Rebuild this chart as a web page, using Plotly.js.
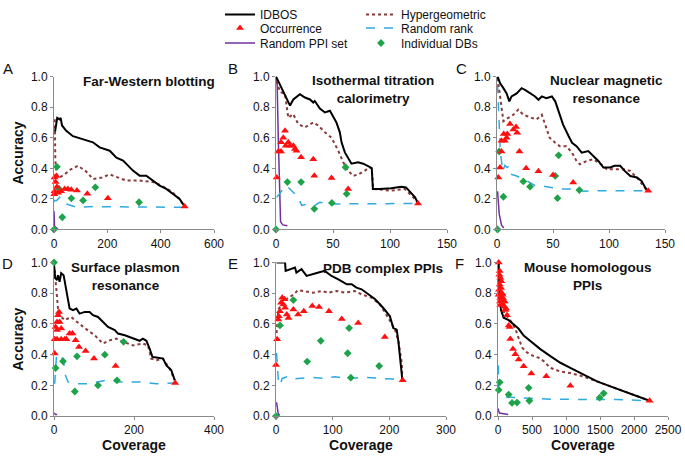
<!DOCTYPE html>
<html>
<head>
<meta charset="utf-8">
<script src="https://cdn.plot.ly/plotly-3.0.1.min.js"></script>
<style>html,body{margin:0;padding:0;background:#fff;}#chart{width:685px;height:457px;}</style>
</head>
<body>
<div id="chart"></div>
<script>
// ---------- Panel A: Far-Western blotting ----------
const A_idbos_x = [4,8,12,21,25,30,46,71,109,146,171,209,234,259,296,321,346,371,396,421,446,471,490];
const A_idbos_y = [0.64,0.70,0.73,0.72,0.73,0.68,0.645,0.61,0.59,0.57,0.537,0.515,0.47,0.45,0.385,0.352,0.352,0.32,0.287,0.265,0.233,0.20,0.15];
const A_hyper_x = [3,5,10,20,40,60,90,120,146,180,209,240,271,321,371,400,440,470,490];
const A_hyper_y = [0.72,0.45,0.36,0.34,0.36,0.39,0.417,0.38,0.33,0.34,0.36,0.34,0.32,0.32,0.31,0.29,0.25,0.20,0.15];
const A_rrank_x = [0,2,10,21,30,46,84,150,250,350,490];
const A_rrank_y = [0.18,0.19,0.19,0.21,0.18,0.167,0.146,0.15,0.148,0.146,0.145];
const A_rppi_x = [0,2,10,15];
const A_rppi_y = [0.12,0.02,0.01,0.0];
const A_occ_x = [2,9,6,11,2,1,15,27,40,52,65,86,125,202,490];
const A_occ_y = [0.34,0.35,0.31,0.28,0.25,0.23,0.24,0.25,0.265,0.265,0.26,0.255,0.233,0.204,0.15];
const A_db_x = [0,11,19,31,65,109,155,319];
const A_db_y = [0.0,0.41,0.265,0.08,0.204,0.19,0.276,0.178];

// ---------- Panel B: Isothermal titration calorimetry ----------
const B_idbos_x = [0,12.3,15.2,21,25.4,29.8,32.7,34,38.5,42.9,47.3,50,53,56,57.5,60.4,64.8,66.2,72,76.5,82,84,85,91,101,110,114,117,122,124.6];
const B_idbos_y = [1.0,0.81,0.85,0.885,0.863,0.85,0.83,0.84,0.79,0.765,0.776,0.74,0.70,0.635,0.57,0.504,0.45,0.43,0.44,0.43,0.41,0.40,0.265,0.265,0.27,0.28,0.275,0.25,0.21,0.17];
const B_hyper_x = [0.5,3.5,7.9,10.8,15,19.5,25.4,32.7,37,42.9,48.7,54.6,59,63.3,67.7,72,78,82,84,85.2,101,113,123,124.6];
const B_hyper_y = [0.97,0.9,0.885,0.73,0.755,0.69,0.667,0.70,0.68,0.635,0.60,0.515,0.44,0.385,0.35,0.36,0.385,0.407,0.40,0.265,0.254,0.265,0.19,0.17];
const B_rrank_x = [0.6,3.5,6.4,9.3,12.3,15,19.5,22.5,28.3,34,38.5,45.8,54.6,80,100,124.6];
const B_rrank_y = [0.21,0.24,0.265,0.287,0.265,0.24,0.21,0.157,0.167,0.157,0.178,0.167,0.167,0.167,0.17,0.17];
const B_rppi_x = [0,1,2,3,4,6,10];
const B_rppi_y = [1.0,0.95,0.6,0.2,0.05,0.03,0.025];
const B_occ_x = [0.6,2,4.4,4.4,6.4,7.9,8.5,10.8,12.3,15.2,16.6,18,22,32.7,33.6,48.7,63.3,124.6];
const B_occ_y = [0.34,0.51,0.51,0.57,0.60,0.645,0.548,0.57,0.548,0.548,0.526,0.515,0.472,0.46,0.352,0.337,0.265,0.17];
const B_db_x = [0,10,22,33.6,49,61,62];
const B_db_y = [0.0,0.31,0.31,0.135,0.174,0.407,0.233];

// ---------- Panel C: Nuclear magnetic resonance ----------
const C_idbos_x = [0.6,2.7,5.7,8.6,11,13,17.6,22,25,29.5,34,37,40,44,49,52,55,59,64,67,71,75.6,81.5,86,90.5,95,101,105,110,114,119,125,129,134];
const C_idbos_y = [1.0,0.957,0.924,0.89,0.838,0.87,0.89,0.924,0.913,0.89,0.87,0.848,0.87,0.859,0.87,0.838,0.773,0.686,0.61,0.567,0.545,0.502,0.513,0.48,0.448,0.405,0.405,0.416,0.416,0.383,0.35,0.34,0.318,0.253];
const C_hyper_x = [0.6,2.7,5.7,10,14.6,19,23.5,31,35.4,40,43,47,52,56,62,67,71,74,80,86,93,98,107,113,119,126,134];
const C_hyper_y = [0.99,0.88,0.708,0.73,0.75,0.784,0.75,0.73,0.72,0.75,0.686,0.60,0.567,0.545,0.545,0.502,0.448,0.426,0.448,0.459,0.426,0.394,0.394,0.394,0.383,0.33,0.253];
const C_rrank_x = [0.5,1.5,3,4,5,7,9,11,13,17.6,23.5,29.5,34,38,44,50,59,71,77,92,107,134];
const C_rrank_y = [0.95,0.75,0.50,0.45,0.38,0.42,0.405,0.416,0.36,0.35,0.33,0.307,0.286,0.286,0.28,0.275,0.264,0.264,0.25,0.253,0.253,0.253];
const C_rppi_x = [0.5,2,4,6];
const C_rppi_y = [0.25,0.10,0.03,0.01];
const C_occ_x = [1.2,2.7,4,4,6,7,8.6,9.2,11.6,14.6,17,18,20,26,37,50,68,135];
const C_occ_y = [0.34,0.405,0.51,0.58,0.625,0.58,0.60,0.625,0.69,0.654,0.67,0.632,0.51,0.40,0.38,0.357,0.307,0.253];
const C_db_x = [0.5,2,5.7,23.5,29.5,52,54,55,73.5];
const C_db_y = [0.0,0.51,0.214,0.314,0.28,0.35,0.205,0.485,0.258];

// ---------- Panel D: Surface plasmon resonance ----------
const D_idbos_x = [0,3,7.5,10,14,18,24,31,39,47.5,56,64,77,89,97.5,110,122.5,135,152,160,177,189,202,214,222,231,239,246,260,272.5,281,293,302];
const D_idbos_y = [0.99,0.90,0.885,0.917,0.874,0.93,0.917,0.82,0.70,0.69,0.70,0.667,0.678,0.678,0.657,0.645,0.613,0.58,0.56,0.537,0.526,0.515,0.504,0.49,0.504,0.49,0.44,0.385,0.38,0.374,0.33,0.30,0.233];
const D_hyper_x = [1.7,6,10,18,27,35,43,52,68,85,102,114,122,139,156,172.5,197.5,222.5,235,243,256,272.5,289,302];
const D_hyper_y = [0.95,0.82,0.70,0.646,0.624,0.635,0.645,0.624,0.59,0.557,0.526,0.493,0.472,0.493,0.504,0.483,0.46,0.472,0.46,0.374,0.363,0.374,0.309,0.233];
const D_rrank_x = [1.7,6,12.5,18,24,27,35,52,81,106,131,164,214,256,302];
const D_rrank_y = [0.21,0.385,0.363,0.385,0.363,0.276,0.222,0.21,0.21,0.222,0.233,0.222,0.222,0.21,0.215];
const D_rppi_x = [0,4,8];
const D_rppi_y = [0.02,0.01,0.01];
const D_occ_x = [1.7,1.7,4,7.5,10,12.5,14,18,7.5,18,27,31,39,46,54,62.5,79,100,154,303,7.5];
const D_occ_y = [0.407,0.50,0.58,0.613,0.657,0.678,0.613,0.57,0.56,0.50,0.50,0.50,0.537,0.537,0.493,0.45,0.424,0.374,0.326,0.215,0.50];
const D_db_x = [0,4,22.5,57.5,52,110,127,157.5,174];
const D_db_y = [1.0,0.313,0.357,0.389,0.16,0.20,0.40,0.233,0.483];

// ---------- Panel E: PDB complex PPIs ----------
const E_idbos_x = [1,16,17,25,33.5,36,45,54,63,75,86,98,110,125,133.5,142,151,163,175,189,201,207,213,216,219,223];
const E_idbos_y = [1.0,1.0,0.945,0.956,0.967,0.934,0.956,0.912,0.923,0.934,0.945,0.912,0.89,0.858,0.858,0.836,0.825,0.792,0.76,0.705,0.65,0.573,0.562,0.486,0.387,0.234];
const E_hyper_x = [1,4,13,22,30.6,39,51,66,80.6,92,107,122,139,151,169,183.5,198,210,216,222,223];
const E_hyper_y = [0.54,0.694,0.748,0.77,0.79,0.82,0.814,0.803,0.814,0.803,0.814,0.803,0.814,0.792,0.77,0.726,0.64,0.562,0.486,0.344,0.234];
const E_rrank_x = [1,4,7,11,19,27.6,39,63,86,104,128,157,186,223];
const E_rrank_y = [0.41,0.234,0.20,0.245,0.256,0.24,0.245,0.252,0.245,0.256,0.245,0.252,0.245,0.238];
const E_rppi_x = [1,4,7];
const E_rppi_y = [0.09,0.015,0.005];
const E_occ_x = [0,2,4,7,9,11,13,15,16,19,22,30.6,39,49,64,76,93.5,116,145,192,223.5,5];
const E_occ_y = [0.333,0.50,0.628,0.683,0.737,0.77,0.726,0.76,0.705,0.661,0.639,0.694,0.661,0.683,0.716,0.71,0.683,0.632,0.606,0.514,0.234,0.65];
const E_db_x = [0,7,30.6,55,79,126.5,129,132,182];
const E_db_y = [0.0,0.59,0.755,0.355,0.49,0.409,0.573,0.25,0.326];

// ---------- Panel F: Mouse homologous PPIs ----------
const F_idbos_x = [10,15,25,44,74,83,157,255,304,377,500,622,770,917,1064,1260,1456,1652,1848,2044,2230];
const F_idbos_y = [0.99,0.83,0.77,0.69,0.645,0.64,0.624,0.59,0.568,0.524,0.48,0.436,0.39,0.347,0.314,0.27,0.226,0.193,0.16,0.13,0.10];
const F_hyper_x = [10,34,83,181,255,304,353,426,524,598,671,770,917,1064,1260,1456,1750,2044,2230];
const F_hyper_y = [1.0,0.81,0.68,0.624,0.568,0.502,0.447,0.414,0.39,0.38,0.358,0.314,0.29,0.28,0.257,0.226,0.18,0.13,0.10];
const F_rrank_x = [5,10,34,83,279,524,770,1260,1750,2230];
const F_rrank_y = [0.33,0.17,0.137,0.126,0.12,0.115,0.11,0.108,0.108,0.10];
const F_rppi_x = [0,20,150];
const F_rppi_y = [0.05,0.02,0.01];
const F_occ_x = [10,25,34,25,44,10,34,59,73,83,59,34,93,108,132,157,181,220,255,304,377,490,710,1064,2230,172,20,49,15,44,68,29,98,118];
const F_occ_y = [1.0,0.945,0.90,0.856,0.834,0.79,0.768,0.80,0.768,0.746,0.735,0.723,0.712,0.69,0.657,0.59,0.502,0.436,0.403,0.369,0.325,0.277,0.26,0.197,0.10,0.58,0.92,0.878,0.823,0.779,0.79,0.746,0.746,0.70];
const F_db_x = [10,25,157,206,279,451,461,1495,1554];
const F_db_y = [0.17,0.22,0.14,0.086,0.088,0.184,0.10,0.12,0.148];

// ---------- Panel labels / titles / ticks ----------
const panelLetters = ['A','B','C','D','E','F'];
const panelTitles = ['Far-Western blotting','Isothermal titration<br>calorimetry','Nuclear magnetic<br>resonance','Surface plasmon<br>resonance','PDB complex PPIs','Mouse homologous<br>PPIs'];
const xRanges = [[0,600],[0,150],[0,150],[0,400],[0,300],[0,2500]];
const xTickSteps = [200,50,50,200,100,500];

const panelData = [
  {idbos:[A_idbos_x,A_idbos_y],hyper:[A_hyper_x,A_hyper_y],rrank:[A_rrank_x,A_rrank_y],rppi:[A_rppi_x,A_rppi_y],occ:[A_occ_x,A_occ_y],db:[A_db_x,A_db_y]},
  {idbos:[B_idbos_x,B_idbos_y],hyper:[B_hyper_x,B_hyper_y],rrank:[B_rrank_x,B_rrank_y],rppi:[B_rppi_x,B_rppi_y],occ:[B_occ_x,B_occ_y],db:[B_db_x,B_db_y]},
  {idbos:[C_idbos_x,C_idbos_y],hyper:[C_hyper_x,C_hyper_y],rrank:[C_rrank_x,C_rrank_y],rppi:[C_rppi_x,C_rppi_y],occ:[C_occ_x,C_occ_y],db:[C_db_x,C_db_y]},
  {idbos:[D_idbos_x,D_idbos_y],hyper:[D_hyper_x,D_hyper_y],rrank:[D_rrank_x,D_rrank_y],rppi:[D_rppi_x,D_rppi_y],occ:[D_occ_x,D_occ_y],db:[D_db_x,D_db_y]},
  {idbos:[E_idbos_x,E_idbos_y],hyper:[E_hyper_x,E_hyper_y],rrank:[E_rrank_x,E_rrank_y],rppi:[E_rppi_x,E_rppi_y],occ:[E_occ_x,E_occ_y],db:[E_db_x,E_db_y]},
  {idbos:[F_idbos_x,F_idbos_y],hyper:[F_hyper_x,F_hyper_y],rrank:[F_rrank_x,F_rrank_y],rppi:[F_rppi_x,F_rppi_y],occ:[F_occ_x,F_occ_y],db:[F_db_x,F_db_y]}
];

// ---------- Layout geometry (pixels -> paper) ----------
const W = 685, H = 457;
const colPx = [[54,214],[276,447],[497,665],[54,214],[276,446],[498,668]];
const rowPx = [[75.7,229],[75.7,229],[75.7,229],[262,416],[262,416],[262,416]];
const letterPos = [[8,68],[233,68],[461,68],[8,263],[233,263],[460,263]];
const titlePos = [[149,81],[373,89],[606,89],[125,276],[383,268],[588,276]];

const styles = {
  idbos:{name:'IDBOS',mode:'lines',line:{color:'#000000',width:2},legend:'legend'},
  occ:{name:'Occurrence',mode:'markers',marker:{symbol:'triangle-up',color:'#FF1010',size:7},legend:'legend2'},
  rppi:{name:'Random PPI set',mode:'lines',line:{color:'#7030A0',width:1.5},legend:'legend3'},
  hyper:{name:'Hypergeometric',mode:'lines',line:{color:'#8B3A3A',width:2,dash:'dot'},legend:'legend4'},
  rrank:{name:'Random rank',mode:'lines',line:{color:'#2EAAE1',width:1.5,dash:'dash'},legend:'legend5'},
  db:{name:'Individual DBs',mode:'markers',marker:{symbol:'diamond',color:'#1FA34A',size:6},legend:'legend6'}
};
const drawOrder = ['rppi','rrank','hyper','idbos','db','occ'];

const traces = [];
panelData.forEach((pd, i) => {
  const ax = i === 0 ? '' : String(i+1);
  drawOrder.forEach(key => {
    const s = styles[key];
    traces.push(Object.assign({}, s, {
      x: pd[key][0], y: pd[key][1],
      xaxis: 'x'+ax, yaxis: 'y'+ax,
      showlegend: i === 0, legendgroup: key,
      cliponaxis: false, hoverinfo: 'skip'
    }));
  });
});

// one legend box per entry, placed on a 2-column grid like the original
const legendCols = [220, 361];
const legendTops = [-1.5, 13.5, 28.5];
function legendBox(col, row) {
  return {x: legendCols[col]/W, y: 1 - legendTops[row]/H, xanchor:'left', yanchor:'top',
          bgcolor:'rgba(0,0,0,0)', font:{size:12, color:'#111'}, itemwidth:30, tracegroupgap:0};
}

const layout = {
  width: W, height: H,
  margin: {l:0,r:0,t:0,b:0},
  paper_bgcolor: '#fff', plot_bgcolor: 'rgba(0,0,0,0)',
  font: {family: 'Liberation Sans, Arial, sans-serif', color: '#111', size: 11},
  showlegend: true,
  legend: legendBox(0,0), legend2: legendBox(0,1), legend3: legendBox(0,2),
  legend4: legendBox(1,0), legend5: legendBox(1,1), legend6: legendBox(1,2),
  annotations: []
};

panelData.forEach((pd, i) => {
  const ax = i === 0 ? '' : String(i+1);
  const xd = [colPx[i][0]/W, colPx[i][1]/W];
  const yd = [(H - rowPx[i][1])/H, (H - rowPx[i][0])/H];
  const xa = {
    domain: xd, range: xRanges[i], dtick: xTickSteps[i], tick0: 0,
    showgrid: false, zeroline: false, showline: true, linecolor: '#8a8a8a', linewidth: 1,
    ticks: 'outside', ticklen: 3, tickcolor: '#8a8a8a',
    tickfont: {size: 12, color: '#111'}, anchor: 'y'+ax, fixedrange: true
  };
  if (i >= 3) xa.title = {text: 'Coverage', font: {size: 14, weight: 'bold', color: '#111'}, standoff: 2};
  const ya = {
    domain: yd, range: [0,1], dtick: 0.2, tickformat: '.1f',
    showgrid: false, zeroline: false, showline: true, linecolor: '#8a8a8a', linewidth: 1,
    ticks: 'outside', ticklen: 3, tickcolor: '#8a8a8a',
    tickfont: {size: 12, color: '#111'}, anchor: 'x'+ax, fixedrange: true
  };
  if (i === 0 || i === 3) ya.title = {text: 'Accuracy', font: {size: 14, weight: 'bold', color: '#111'}, standoff: 4};
  layout['xaxis'+ax] = xa;
  layout['yaxis'+ax] = ya;

  layout.annotations.push({
    text: panelLetters[i], xref:'paper', yref:'paper',
    x: letterPos[i][0]/W, y: 1 - letterPos[i][1]/H, xanchor:'center', yanchor:'middle',
    showarrow:false, font:{size:15, color:'#111'}
  });
  layout.annotations.push({
    text: '<b>' + panelTitles[i] + '</b>', xref:'paper', yref:'paper',
    x: titlePos[i][0]/W, y: 1 - titlePos[i][1]/H, xanchor:'center', yanchor:'middle',
    showarrow:false, font:{size:13.5, color:'#111'}, align:'center'
  });
});

Plotly.newPlot('chart', traces, layout, {staticPlot:true, displayModeBar:false});
</script>
</body>
</html>
